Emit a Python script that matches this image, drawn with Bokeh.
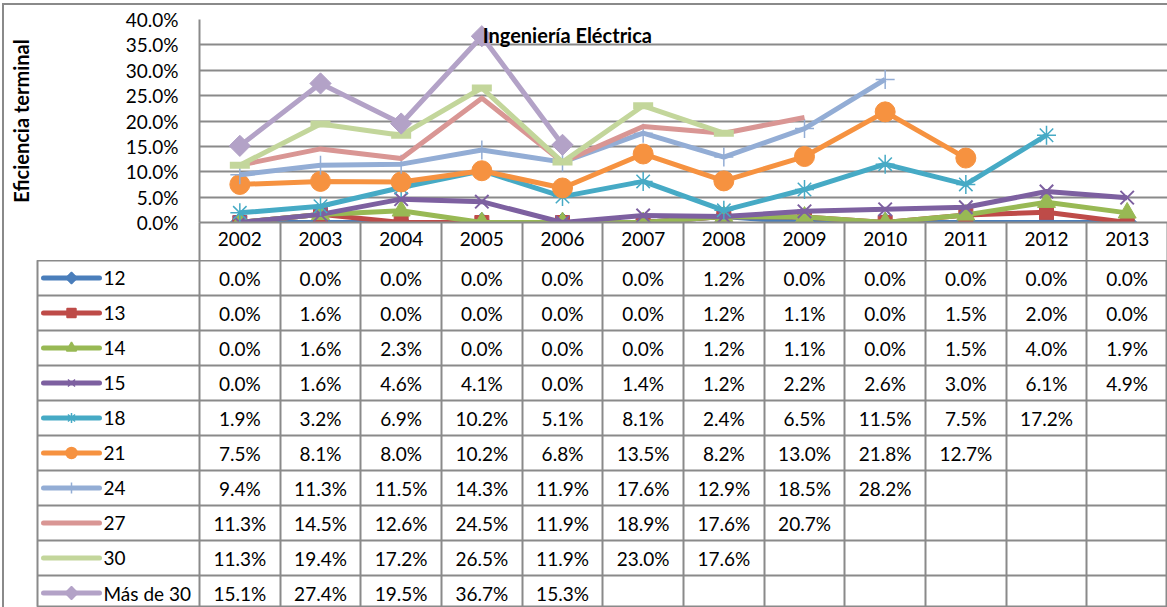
import math
import numpy as np
from bokeh.plotting import figure
from bokeh.layouts import column
from bokeh.models import Range1d, FixedTicker, PrintfTickFormatter, Label, ColumnDataSource
from bokeh.core.properties import value
from bokeh.embed import file_html
from bokeh.resources import INLINE

# ---------------- data ----------------
years = [2002, 2003, 2004, 2005, 2006, 2007, 2008, 2009, 2010, 2011, 2012, 2013]
series_names = ["12", "13", "14", "15", "18", "21", "24", "27", "30", "Más de 30"]

s12 = [0.0, 0.0, 0.0, 0.0, 0.0, 0.0, 1.2, 0.0, 0.0, 0.0, 0.0, 0.0]
s13 = [0.0, 1.6, 0.0, 0.0, 0.0, 0.0, 1.2, 1.1, 0.0, 1.5, 2.0, 0.0]
s14 = [0.0, 1.6, 2.3, 0.0, 0.0, 0.0, 1.2, 1.1, 0.0, 1.5, 4.0, 1.9]
s15 = [0.0, 1.6, 4.6, 4.1, 0.0, 1.4, 1.2, 2.2, 2.6, 3.0, 6.1, 4.9]
s18 = [1.9, 3.2, 6.9, 10.2, 5.1, 8.1, 2.4, 6.5, 11.5, 7.5, 17.2, None]
s21 = [7.5, 8.1, 8.0, 10.2, 6.8, 13.5, 8.2, 13.0, 21.8, 12.7, None, None]
s24 = [9.4, 11.3, 11.5, 14.3, 11.9, 17.6, 12.9, 18.5, 28.2, None, None, None]
s27 = [11.3, 14.5, 12.6, 24.5, 11.9, 18.9, 17.6, 20.7, None, None, None, None]
s30 = [11.3, 19.4, 17.2, 26.5, 11.9, 23.0, 17.6, None, None, None, None, None]
s_mas30 = [15.1, 27.4, 19.5, 36.7, 15.3, None, None, None, None, None, None, None]

series_values = [s12, s13, s14, s15, s18, s21, s24, s27, s30, s_mas30]
y_ticks = [0, 5, 10, 15, 20, 25, 30, 35, 40]

title_text = "Ingeniería Eléctrica"
y_label = "Eficiencia terminal"

# ---------------- style ----------------
FONT = "Lato"
FS = "19px"
GRID = "#8a8a8a"
colors = ["#4A7EBB", "#BE4B48", "#98B954", "#7D60A0", "#46AAC5",
          "#F69240", "#93ADD5", "#D99694", "#C3D69B", "#B3A2C7"]
markers = ["square", "square", "triangle", "x", "asterisk",
           "circle", "cross", None, "dash", "square"]
angles = [math.pi / 4, 0, 0, 0, 0, 0, 0, 0, 0, math.pi / 4]
msizes = [14, 14, 18, 19, 19, 20, 19, 0, 20, 15]
filled = [True, True, True, False, False, True, False, False, False, True]
mline = [1, 1, 1, 2, 1.5, 1, 1.5, 1, 7, 1]
leg_sizes = [8, 9, 10, 10, 10, 11, 11, 0, 0, 9]

x_lo, x_hi = years[0] - 0.5, years[-1] + 0.5
boundaries = [y - 0.5 for y in years] + [x_hi]

FIG_W = 1163
LEFT_BORDER = 195
CW = (FIG_W - LEFT_BORDER) / 12.0   # pixel width of one year column
ROW_PX = 35.0                        # table row height
TABLE_H = 347

# ---------------- chart ----------------
p = figure(width=FIG_W, height=255, x_range=Range1d(x_lo, x_hi), y_range=Range1d(0, 40),
           output_backend="svg", toolbar_location=None, frame_align=False,
           min_border_left=LEFT_BORDER, min_border_right=0, min_border_top=14,
           min_border_bottom=38)
p.outline_line_color = None
p.background_fill_color = "white"
p.border_fill_color = "white"

p.xgrid.visible = False
p.ygrid.ticker = FixedTicker(ticks=y_ticks[1:])
p.ygrid.grid_line_color = GRID
p.ygrid.grid_line_width = 2

yax = p.yaxis[0]
yax.ticker = FixedTicker(ticks=y_ticks)
yax.formatter = PrintfTickFormatter(format="%.1f%%")
yax.axis_line_color = GRID
yax.axis_line_width = 2
yax.major_tick_out = 0
yax.major_tick_in = 0
yax.minor_tick_line_color = None
yax.major_label_standoff = 21
yax.major_label_text_font = FONT
yax.major_label_text_font_size = FS
yax.major_label_text_color = "black"
yax.axis_label = y_label
yax.axis_label_text_font = FONT
yax.axis_label_text_font_size = "20px"
yax.axis_label_text_font_style = "bold"
yax.axis_label_text_color = "black"
yax.axis_label_standoff = 90

xax = p.xaxis[0]
xax.ticker = FixedTicker(ticks=years, minor_ticks=boundaries)
xax.axis_line_color = GRID
xax.axis_line_width = 2
xax.major_tick_out = 0
xax.major_tick_in = 0
xax.minor_tick_in = 0
xax.minor_tick_out = 38
xax.minor_tick_line_color = GRID
xax.minor_tick_line_width = 2
xax.major_label_standoff = -29
xax.major_label_text_font = FONT
xax.major_label_text_font_size = FS
xax.major_label_text_color = "black"

for i, vals in enumerate(series_values):
    src = ColumnDataSource(dict(x=years, y=np.array(vals, dtype=float)))
    p.line("x", "y", source=src, line_color=colors[i], line_width=5, line_join="round")
    if markers[i] is not None:
        kw = dict(marker=markers[i], size=msizes[i], angle=angles[i],
                  line_color=colors[i], line_width=mline[i])
        kw["fill_color"] = colors[i] if filled[i] else None
        p.scatter("x", "y", source=src, **kw)

p.add_layout(Label(x=2006.06, y=37.0, text=title_text, text_font=FONT,
                   text_font_size="20px", text_font_style="bold",
                   text_align="center", text_baseline="middle", text_color="black"))

# ---------------- data table ----------------
n_rows = len(series_names)
t_lo = x_lo - 162 / CW
t = figure(width=FIG_W, height=TABLE_H, x_range=Range1d(t_lo, x_hi),
           y_range=Range1d(TABLE_H / ROW_PX, 0),
           x_axis_location=None, y_axis_location=None, frame_align=False,
           output_backend="svg", toolbar_location=None,
           min_border_left=LEFT_BORDER - 162, min_border_right=0,
           min_border_top=0, min_border_bottom=0)
t.outline_line_color = GRID
t.outline_line_width = 2
t.background_fill_color = "white"
t.border_fill_color = "white"
t.xgrid.ticker = FixedTicker(ticks=boundaries)
t.ygrid.ticker = FixedTicker(ticks=list(range(1, n_rows)))
t.grid.grid_line_color = GRID
t.grid.grid_line_width = 2

cx, cy, ct = [], [], []
for r, vals in enumerate(series_values):
    for yv, v in zip(years, vals):
        if v is not None:
            cx.append(yv)
            cy.append(r + 0.5)
            ct.append(f"{v:.1f}%")
t.text(x=cx, y=cy, text=ct, text_font=value(FONT), text_font_size=FS,
       text_align="center", text_baseline="middle", text_color="black")

# legend keys in the first column
leg_x0 = t_lo + 6 / CW
leg_x1 = t_lo + 62 / CW
leg_xm = (leg_x0 + leg_x1) / 2
leg_tx = t_lo + 66 / CW
rows_mid = [r + 0.5 for r in range(n_rows)]
t.segment(x0=[leg_x0] * n_rows, y0=rows_mid, x1=[leg_x1] * n_rows, y1=rows_mid,
          line_color=colors, line_width=5, line_cap="round")
for i in range(n_rows):
    if markers[i] is not None and leg_sizes[i] > 0:
        t.scatter(x=[leg_xm], y=[rows_mid[i]], marker=markers[i], size=leg_sizes[i],
                  angle=angles[i], line_color=colors[i], line_width=1.5,
                  fill_color=colors[i] if filled[i] else None)
t.text(x=[leg_tx] * n_rows, y=rows_mid, text=series_names, text_font=value(FONT),
       text_font_size=FS, text_align="left", text_baseline="middle", text_color="black")

layout = column(p, t, spacing=0,
                styles={"margin-left": "2px", "margin-top": "3px",
                        "border-left": f"2px solid {GRID}", "border-top": f"2px solid {GRID}"})
open("out.html", "w").write(file_html(layout, INLINE))
